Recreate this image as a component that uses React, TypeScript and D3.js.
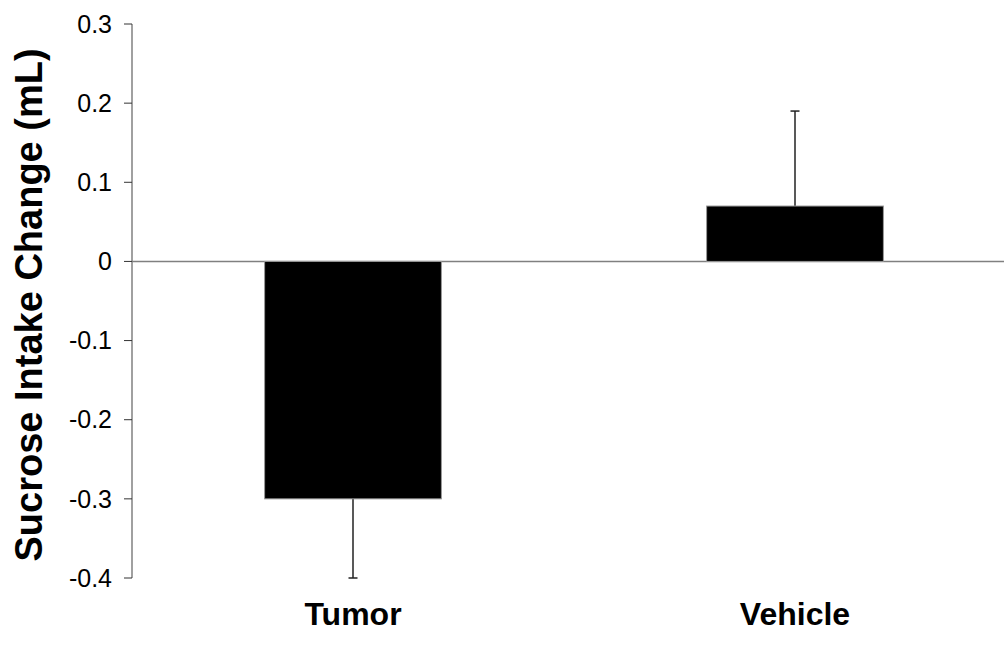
import { useEffect, useRef } from "react";
import * as d3 from "d3";

const groups = ["Tumor", "Vehicle"];
const means = [-0.3, 0.07];
const errors = [-0.1, 0.12];
const yTicks = [-0.4, -0.3, -0.2, -0.1, 0, 0.1, 0.2, 0.3];

const W = 1004;
const H = 647;

export default function App() {
  const ref = useRef<SVGSVGElement | null>(null);

  useEffect(() => {
    const svg = d3.select(ref.current!);
    svg.selectAll("*").remove();

    const left = 132;
    const y = d3.scaleLinear().domain([-0.4, 0.3]).range([578, 24]);
    const x = d3
      .scaleBand<string>()
      .domain(groups)
      .range([left, 1016])
      .paddingInner(0.6)
      .paddingOuter(0.3);

    const font = "'Liberation Sans', Arial, sans-serif";

    // y axis
    const ax = svg.append("g");
    ax.append("line")
      .attr("x1", left)
      .attr("x2", left)
      .attr("y1", y(0.3))
      .attr("y2", y(-0.4))
      .attr("stroke", "#808080")
      .attr("stroke-width", 1.5);
    ax.selectAll("line.tick")
      .data(yTicks)
      .join("line")
      .attr("class", "tick")
      .attr("x1", left - 8)
      .attr("x2", left)
      .attr("y1", (d) => y(d))
      .attr("y2", (d) => y(d))
      .attr("stroke", "#333")
      .attr("stroke-width", 1);
    ax.selectAll("text")
      .data(yTicks)
      .join("text")
      .attr("x", 112)
      .attr("y", (d) => y(d))
      .attr("dy", "0.35em")
      .attr("text-anchor", "end")
      .style("font", `25px ${font}`)
      .style("fill", "#000")
      .text((d) => (d === 0 ? "0" : d.toFixed(1)));

    svg
      .append("text")
      .attr("transform", `translate(42,${y(-0.055)}) rotate(-90)`)
      .attr("text-anchor", "middle")
      .style("font", `bold 38px ${font}`)
      .text("Sucrose Intake Change (mL)");

    // error bars
    const eb = svg.append("g").attr("stroke", "#222").attr("stroke-width", 1.5);
    groups.forEach((g, i) => {
      const cx = x(g)! + x.bandwidth() / 2;
      const end = means[i] + errors[i];
      eb.append("line")
        .attr("x1", cx)
        .attr("x2", cx)
        .attr("y1", y(means[i]))
        .attr("y2", y(end));
      eb.append("line")
        .attr("x1", cx - 4.5)
        .attr("x2", cx + 4.5)
        .attr("y1", y(end))
        .attr("y2", y(end));
    });

    // zero line
    svg
      .append("line")
      .attr("x1", left)
      .attr("x2", W)
      .attr("y1", y(0))
      .attr("y2", y(0))
      .attr("stroke", "#808080")
      .attr("stroke-width", 1.5);

    // bars
    svg
      .append("g")
      .selectAll("rect")
      .data(groups)
      .join("rect")
      .attr("x", (d) => x(d)!)
      .attr("width", x.bandwidth())
      .attr("y", (_, i) => y(Math.max(0, means[i])))
      .attr("height", (_, i) => Math.abs(y(means[i]) - y(0)))
      .attr("fill", "#000")
      .attr("stroke", "#999")
      .attr("stroke-width", 1);

    svg
      .append("g")
      .selectAll("text")
      .data(groups)
      .join("text")
      .attr("x", (d) => x(d)! + x.bandwidth() / 2)
      .attr("y", 625)
      .attr("text-anchor", "middle")
      .style("font", `bold 32px ${font}`)
      .text((d) => d);
  }, []);

  return (
    <svg
      ref={ref}
      width={W}
      height={H}
      style={{ position: "absolute", left: 0, top: 0, background: "#fff" }}
    />
  );
}
